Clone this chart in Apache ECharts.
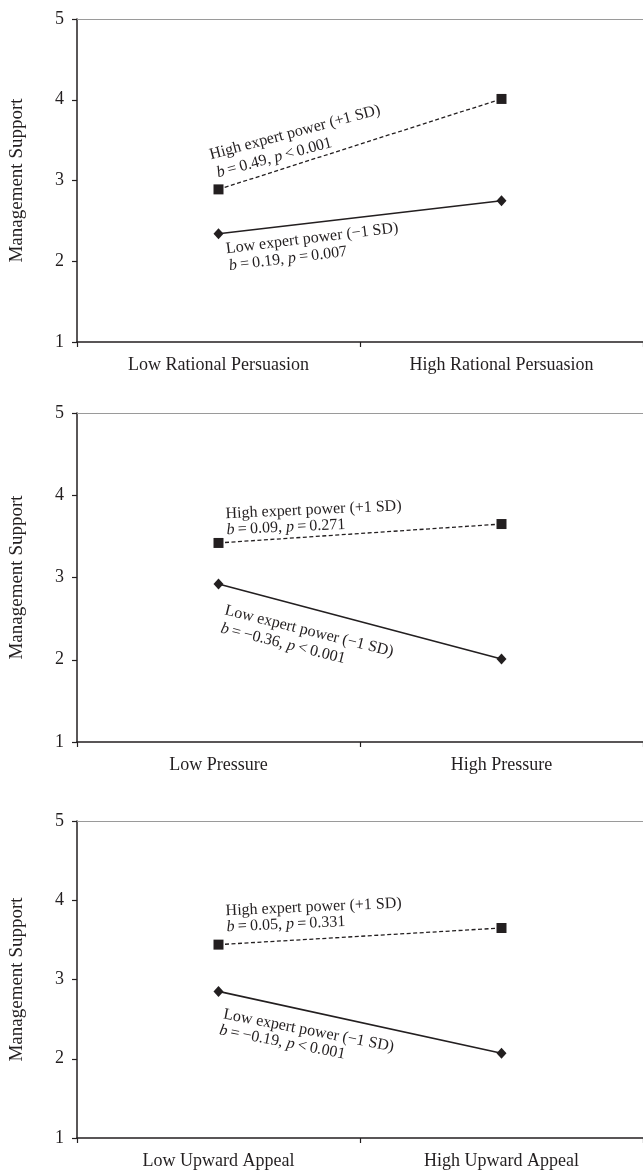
<!DOCTYPE html>
<html>
<head>
<meta charset="utf-8">
<script src="https://cdn.jsdelivr.net/npm/echarts@6/dist/echarts.min.js"></script>
<style>
  html, body { margin: 0; padding: 0; background: #fff; }
  #main { width: 643px; height: 1172px; }
</style>
</head>
<body>
<div id="main"></div>
<script>
  // categories for the three panels
  const catsRational = ['Low Rational Persuasion', 'High Rational Persuasion'];
  const catsPressure = ['Low Pressure', 'High Pressure'];
  const catsAppeal = ['Low Upward Appeal', 'High Upward Appeal'];

  // management support, high / low expert power
  const highRational = [2.89, 4.01];
  const lowRational = [2.34, 2.75];
  const highPressure = [3.42, 3.65];
  const lowPressure = [2.92, 2.01];
  const highAppeal = [3.44, 3.65];
  const lowAppeal = [2.85, 2.07];

  const yMin = 1, yMax = 5, yStep = 1;
  const yName = 'Management Support';

  const FONT = "'Liberation Serif', 'DejaVu Serif', serif";
  const INK = '#231f20';

  let myChart = echarts.init(document.getElementById('main'));

  // grid boxes (top/height) for each panel
  const grids = [
    { left: 68, top: 19, width: 580, height: 323 },
    { left: 68, top: 413, width: 580, height: 329 },
    { left: 68, top: 821, width: 580, height: 317 }
  ];
  const cats = [catsRational, catsPressure, catsAppeal];
  const highs = [highRational, highPressure, highAppeal];
  const lows = [lowRational, lowPressure, lowAppeal];

  const xAxes = [];
  const yAxes = [];
  const series = [];

  cats.forEach(function (c, i) {
    xAxes.push({
      gridIndex: i,
      type: 'category',
      data: c,
      boundaryGap: true,
      axisLine: { lineStyle: { color: INK, width: 1.5 } },
      axisTick: { show: true, length: 5, lineStyle: { color: INK, width: 1.2 } },
      axisLabel: { color: INK, fontFamily: FONT, fontSize: 18, margin: 14 }
    });
    yAxes.push({
      gridIndex: i,
      type: 'value',
      min: yMin,
      max: yMax,
      interval: yStep,
      name: yName,
      nameLocation: 'middle',
      nameRotate: 90,
      nameGap: 50,
      nameTextStyle: { color: INK, fontFamily: FONT, fontSize: 19 },
      splitLine: { show: false },
      axisLine: { show: true, lineStyle: { color: INK, width: 1.5 } },
      axisTick: { show: true, length: 5, lineStyle: { color: INK, width: 1.2 } },
      axisLabel: { color: INK, fontFamily: FONT, fontSize: 18, margin: 13 }
    });
  });
  // thin grey line along the top of each plot
  cats.forEach(function (c, i) {
    xAxes.push({
      gridIndex: i,
      type: 'category',
      data: c,
      position: 'top',
      axisLine: { lineStyle: { color: '#9a9a9a', width: 1 } },
      axisTick: { show: false },
      axisLabel: { show: false }
    });
  });

  cats.forEach(function (c, i) {
    series.push({
      name: 'High expert power',
      type: 'line',
      xAxisIndex: i,
      yAxisIndex: i,
      data: highs[i],
      symbol: 'rect',
      symbolSize: 10,
      itemStyle: { color: INK },
      lineStyle: { color: INK, width: 1.3, type: [4, 2.5] },
      z: 3
    });
    series.push({
      name: 'Low expert power',
      type: 'line',
      xAxisIndex: i,
      yAxisIndex: i,
      data: lows[i],
      symbol: 'diamond',
      symbolSize: [10, 11],
      itemStyle: { color: INK },
      lineStyle: { color: INK, width: 1.6 },
      z: 3
    });
  });

  // slanted annotations: [text, x, baselineY, degrees]
  const notes = [
    ['High expert power (+1 SD)', 212, 160, 15],
    ['{i|b}\u2009=\u20090.49, {i|p}\u2009<\u20090.001', 219, 178, 15],
    ['Low expert power (\u22121 SD)', 227, 254, 7],
    ['{i|b}\u2009=\u20090.19, {i|p}\u2009=\u20090.007', 230, 271, 7],
    ['High expert power (+1 SD)', 226, 519, 2.6],
    ['{i|b}\u2009=\u20090.09, {i|p}\u2009=\u20090.271', 227, 535, 2.6],
    ['Low expert power (\u22121 SD)', 223, 615, -14],
    ['{i|b}\u2009=\u2009\u22120.36, {i|p}\u2009<\u20090.001', 219, 633, -14],
    ['High expert power (+1 SD)', 226, 916, 2.5],
    ['{i|b}\u2009=\u20090.05, {i|p}\u2009=\u20090.331', 227, 932, 2.5],
    ['Low expert power (\u22121 SD)', 222, 1019, -11],
    ['{i|b}\u2009=\u2009\u22120.19, {i|p}\u2009<\u20090.001', 218, 1035, -11]
  ];
  const graphic = notes.map(function (n) {
    return {
      type: 'text',
      x: n[1],
      y: n[2] + 3,
      rotation: n[3] * Math.PI / 180,
      style: {
        text: n[0],
        fill: INK,
        fontFamily: FONT,
        fontSize: 16,
        align: 'left',
        verticalAlign: 'bottom',
        rich: {
          i: { fontStyle: 'italic', fontFamily: FONT, fontSize: 16, fill: INK }
        }
      },
      z: 10
    };
  });

  myChart.setOption({
    animation: false,
    backgroundColor: '#fff',
    grid: grids,
    xAxis: xAxes,
    yAxis: yAxes,
    series: series,
    graphic: graphic
  });
  window.onresize = myChart.resize;
</script>
</body>
</html>
